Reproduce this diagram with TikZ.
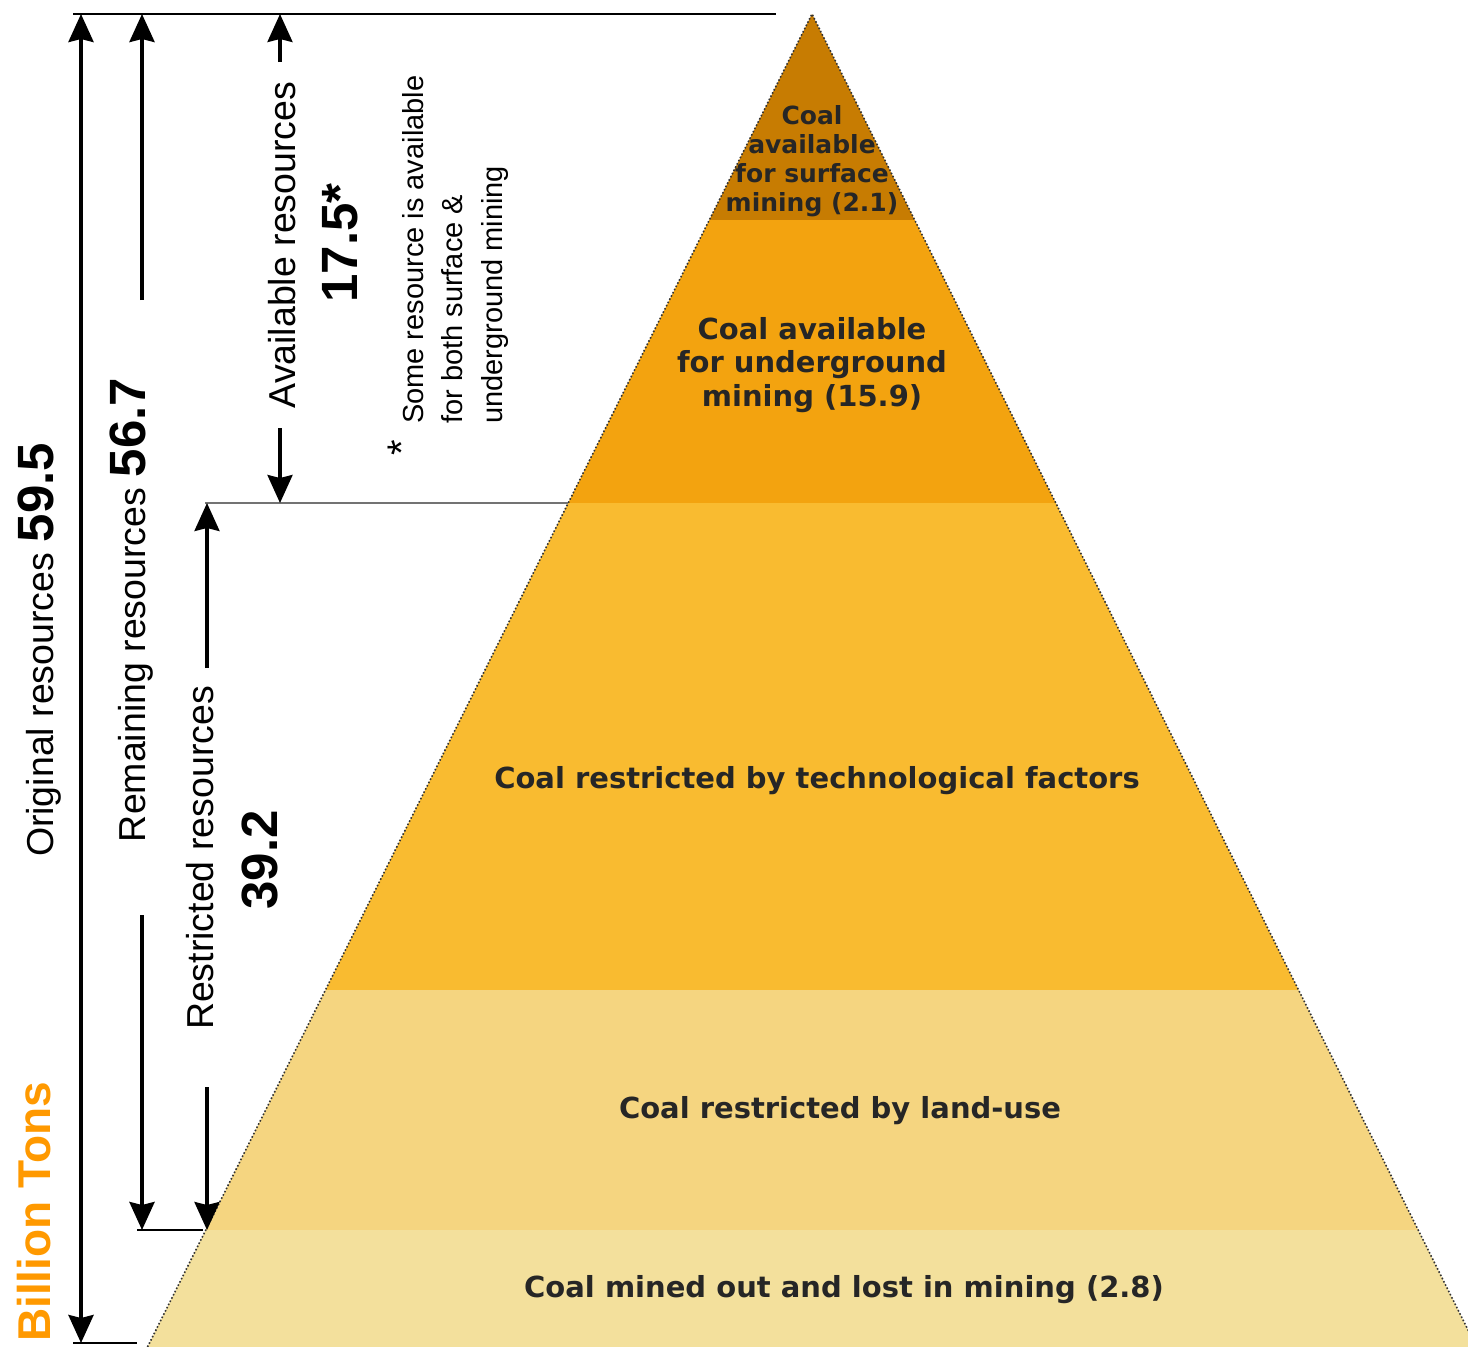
\documentclass[tikz,border=0pt]{standalone}
\usepackage{fontspec}
\setmainfont{Liberation Sans}
\newfontfamily\pyrfont{DejaVu Sans}
\usetikzlibrary{arrows.meta}

\definecolor{layerA}{HTML}{C77C02}
\definecolor{layerB}{HTML}{F3A30F}
\definecolor{layerC}{HTML}{F9BB30}
\definecolor{layerD}{HTML}{F5D580}
\definecolor{layerE}{HTML}{F3E09C}
\definecolor{tons}{HTML}{FF9900}

\tikzset{
  pyrtext/.style={align=center, text=black!85, inner sep=0pt,
    font=\pyrfont\bfseries\fontsize{29}{33.5}\selectfont},
  lbl/.style={rotate=90, anchor=base, inner sep=0pt,
    font=\fontsize{37.5}{44}\selectfont},
  num/.style={rotate=90, anchor=base, inner sep=0pt,
    font=\bfseries\fontsize{51}{51}\selectfont},
  dimbig/.style={line width=3.8pt},
  dimsmall/.style={line width=3.2pt},
  rule/.style={line width=2.4pt},
  pyredge/.style={dotted, line width=1.6pt, black!80}
}

\begin{document}
\begin{tikzpicture}
      [x=1pt,y=-1pt, >={Stealth[length=28pt,width=25pt,inset=3pt]}]
\useasboundingbox (0,0) rectangle (1468,1347);

%pyramid corners, one pair per layer border
\coordinate (apex) at (812,14);
\coordinate (l1) at (709.3,220);  \coordinate (r1) at (914.7,220);
\coordinate (l2) at (568.2,503);  \coordinate (r2) at (1055.8,503);
\coordinate (l3) at (325.5,990);  \coordinate (r3) at (1298.5,990);
\coordinate (l4) at (205.8,1230); \coordinate (r4) at (1418.2,1230);
\coordinate (l5) at (147.5,1347); \coordinate (r5) at (1476.5,1347);

\begin{scope}
 \clip (0,0) rectangle (1468,1347);
 \fill[layerA] (apex) -- (r1) -- (l1) -- cycle;
 \fill[layerB] (l1) -- (r1) -- (r2) -- (l2) -- cycle;
 \fill[layerC] (l2) -- (r2) -- (r3) -- (l3) -- cycle;
 \fill[layerD] (l3) -- (r3) -- (r4) -- (l4) -- cycle;
 \fill[layerE] (l4) -- (r4) -- (r5) -- (l5) -- cycle;
 \draw[pyredge] (l5) -- (apex) -- (r5);
\end{scope}

%layer texts
\node[pyrtext, font=\pyrfont\bfseries\fontsize{25}{29}\selectfont] (surface) at (812,161)
   {Coal\\available\\for surface\\mining (2.1)};
\node[pyrtext] (under) at (812,365) {Coal available\\for underground\\mining (15.9)};
\node[pyrtext] (techno) at (817,781) {Coal restricted by technological factors};
\node[pyrtext] (landuse) at (840,1111) {Coal restricted by land-use};
\node[pyrtext] (mined) at (844,1290) {Coal mined out and lost in mining (2.8)};

%level rules
\coordinate (topA) at (73,14);    \coordinate (topB) at (776,14);
\coordinate (midA) at (205,503);
\coordinate (lowA) at (137,1230); \coordinate (lowB) at (203,1230);
\coordinate (botA) at (73,1343);  \coordinate (botB) at (137,1343);
\draw[rule] (topA) -- (topB);
\draw[line width=1.6pt, black!55] (midA) -- (l2);
\draw[rule] (lowA) -- (lowB);
\draw[rule] (botA) -- (botB);

%labels
\node[lbl] (orig) at (53,650) {Original resources {\bfseries\fontsize{51}{51}\selectfont 59.5}};
\node[lbl] (remain) at (145,610) {Remaining resources {\bfseries\fontsize{51}{51}\selectfont 56.7}};
\node[lbl] (avail) at (295,245) {Available resources};
\node[num] (availnum) at (357,243) {17.5*};
\node[lbl] (restr) at (213,858) {Restricted resources};
\node[num] (restrnum) at (277,860) {39.2};
\node[rotate=90, anchor=north west, inner sep=0pt, align=left,
      font=\fontsize{29}{39.5}\selectfont] (note) at (402,424)
   {Some resource is available\\for both surface \&\\underground mining};
\node[rotate=90, anchor=base, inner sep=0pt, font=\fontsize{40}{40}\selectfont] (star) at (415,448) {*};
\node[rotate=90, anchor=base, inner sep=0pt, text=tons,
      font=\bfseries\fontsize{46}{46}\selectfont] (billion) at (50,1212) {Billion Tons};

%dimension arrows
\coordinate (oA) at (81,14);   \coordinate (oB) at (81,1343);
\coordinate (rA) at (142,300); \coordinate (rB) at (142,14);
\coordinate (rC) at (142,915); \coordinate (rD) at (142,1230);
\coordinate (aA) at (280,62);  \coordinate (aB) at (280,14);
\coordinate (aC) at (280,428); \coordinate (aD) at (280,503);
\coordinate (sA) at (207,668); \coordinate (sB) at (207,503);
\coordinate (sC) at (207,1087);\coordinate (sD) at (207,1230);

\draw[dimbig,<->] (oA) -- (oB);
\draw[dimbig,->] (rA) -- (rB);
\draw[dimbig,->] (rC) -- (rD);
\draw[dimsmall,->] (aA) -- (aB);
\draw[dimsmall,->] (aC) -- (aD);
\draw[dimsmall,->] (sA) -- (sB);
\draw[dimsmall,->] (sC) -- (sD);

\end{tikzpicture}
\end{document}
